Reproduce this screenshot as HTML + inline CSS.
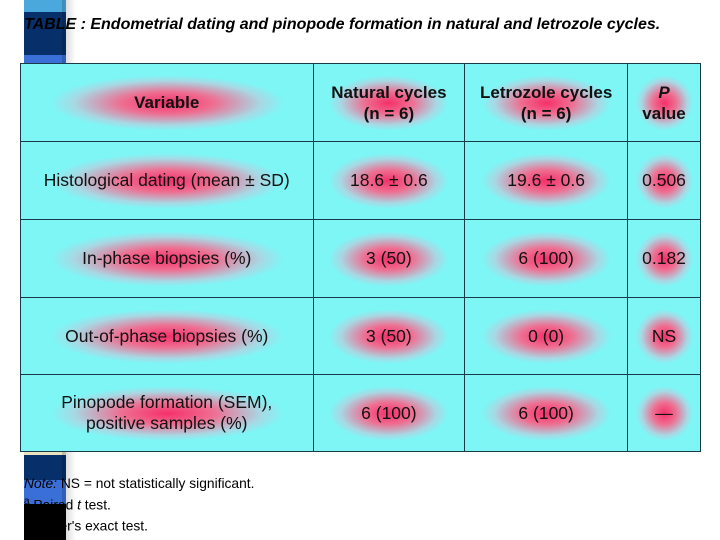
<!DOCTYPE html>
<html><head><meta charset="utf-8"><style>
body{margin:0;width:720px;height:540px;background:#fff;position:relative;overflow:hidden;font-family:"Liberation Sans",Arial,sans-serif}
.strip{position:absolute;left:24px;width:42px}
.shadow{position:absolute;left:62px;width:14px;top:0;height:540px;background:linear-gradient(90deg,rgba(0,0,0,.18),rgba(0,0,0,0))}
h1{position:absolute;left:24px;top:16px;margin:0;font-size:16px;font-style:italic;font-weight:bold;color:#000;white-space:nowrap;z-index:2}
table{position:absolute;left:20px;top:63px;width:681px;height:389px;border-collapse:collapse;z-index:2}
td{border:1.3px solid #1a3a4a;text-align:center;font-size:17.5px;color:#111;padding:0;background:#7ef6f6;line-height:21px}
td.g{background:radial-gradient(ellipse 40% 36% at 50% 50%,#f5306a 0%,#ee6f92 40%,#a8d8e4 80%,#7ef6f6 100%)}
.b{font-weight:bold;font-size:17px}
.notes{position:absolute;left:24px;top:475px;font-size:13.8px;line-height:17.5px;color:#000;z-index:2}
sup{font-size:10px}
</style></head><body>
<div class="strip" style="top:0;height:12px;background:#4aa8dc"></div>
<div class="strip" style="top:12px;height:43px;background:#07306a"></div>
<div class="strip" style="top:55px;height:10px;background:#3a6fd8"></div>
<div class="strip" style="top:440px;height:15px;background:#e8e2c0"></div>
<div class="strip" style="top:455px;height:25px;background:#07306a"></div>
<div class="strip" style="top:480px;height:24px;background:#3a6fd8"></div>
<div class="strip" style="top:504px;height:36px;background:#000"></div>
<div class="shadow"></div>
<h1>TABLE : Endometrial dating and pinopode formation in natural and letrozole cycles.</h1>
<table>
<colgroup><col style="width:293px"><col style="width:152px"><col style="width:163px"><col style="width:73px"></colgroup>
<tr style="height:78px">
<td class="g b">Variable</td>
<td class="g b">Natural cycles<br>(n = 6)</td>
<td class="g b">Letrozole cycles<br>(n = 6)</td>
<td class="g b"><i>P</i><br>value</td></tr>
<tr style="height:78px">
<td class="g">Histological dating (mean ± SD)</td>
<td class="g">18.6 ± 0.6</td>
<td class="g">19.6 ± 0.6</td>
<td class="g">0.506</td></tr>
<tr style="height:78px">
<td class="g">In-phase biopsies (%)</td>
<td class="g">3 (50)</td>
<td class="g">6 (100)</td>
<td class="g">0.182</td></tr>
<tr style="height:77px">
<td class="g">Out-of-phase biopsies (%)</td>
<td class="g">3 (50)</td>
<td class="g">0 (0)</td>
<td class="g">NS</td></tr>
<tr style="height:77px">
<td class="g">Pinopode formation (SEM),<br>positive samples (%)</td>
<td class="g">6 (100)</td>
<td class="g">6 (100)</td>
<td class="g">—</td></tr>
</table>
<div class="notes">
<div><i>Note:</i> NS = not statistically significant.</div>
<div><sup>a</sup> Paired <i>t</i> test.</div>
<div><sup>b</sup> Fisher's exact test.</div>
</div>
</body></html>
